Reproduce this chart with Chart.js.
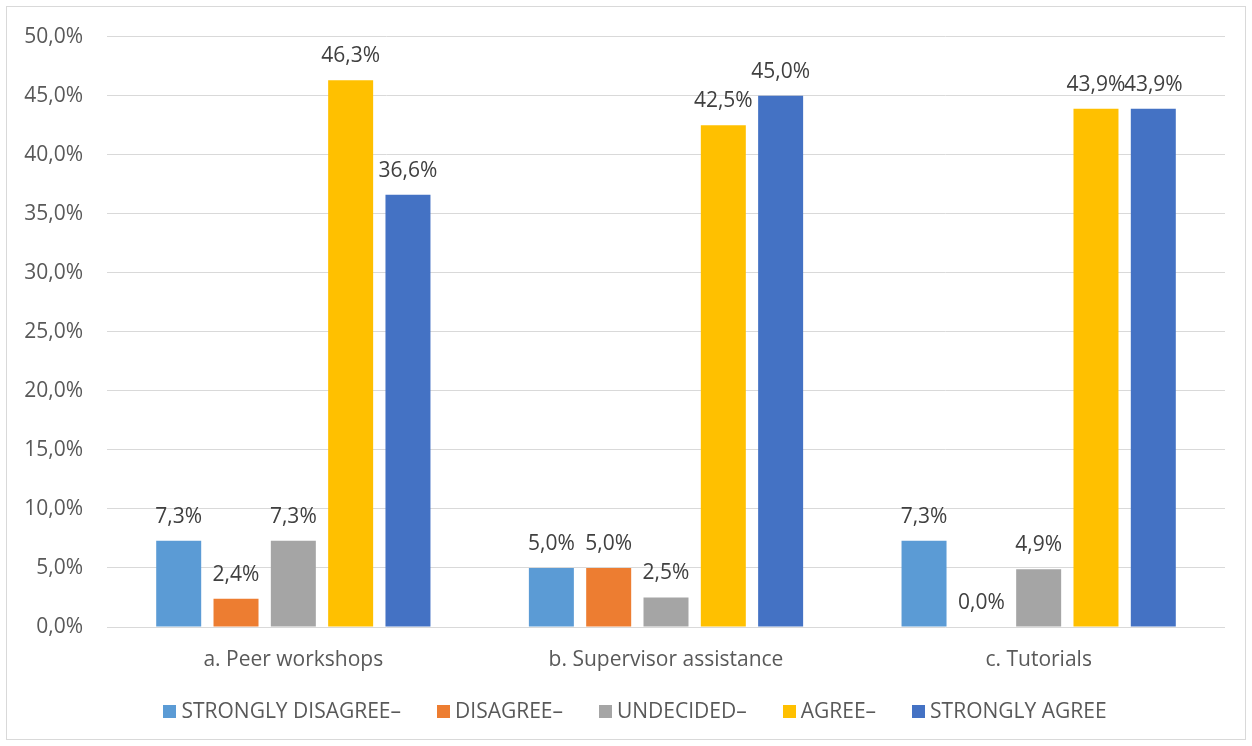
<!DOCTYPE html>
<html>
<head>
<meta charset="utf-8">
<title>Support ratings</title>
<script src="https://cdn.jsdelivr.net/npm/chart.js@4/dist/chart.umd.min.js"></script>
<style>
  html, body { margin: 0; padding: 0; background: #ffffff; }
  #wrap { width: 1252px; height: 746px; }
</style>
</head>
<body>
<div id="wrap"><canvas id="chart" width="1252" height="746"></canvas></div>
<script>
// Categories and response shares (percent)
const categories = ['a. Peer workshops', 'b. Supervisor assistance', 'c. Tutorials'];
const seriesNames = ['STRONGLY DISAGREE–', 'DISAGREE–', 'UNDECIDED–', 'AGREE–', 'STRONGLY AGREE'];
const stronglyDisagree = [7.3, 5.0, 7.3];
const disagree = [2.4, 5.0, 0.0];
const undecided = [7.3, 2.5, 4.9];
const agree = [46.3, 42.5, 43.9];
const stronglyAgree = [36.6, 45.0, 43.9];
const yTicks = [0, 5, 10, 15, 20, 25, 30, 35, 40, 45, 50];

const seriesValues = [stronglyDisagree, disagree, undecided, agree, stronglyAgree];
const seriesColors = ['#5B9BD5', '#ED7D31', '#A5A5A5', '#FFC000', '#4472C4'];

const FONT = '"Open Sans", "DejaVu Sans", sans-serif';
const FONT_SIZE = 21;
const fmt = v => v.toFixed(1).replace('.', ',') + '%';

// White background plus thin frame around the whole chart
const framePlugin = {
  id: 'frame',
  beforeDraw(chart) {
    const ctx = chart.ctx;
    ctx.save();
    ctx.fillStyle = '#ffffff';
    ctx.fillRect(0, 0, chart.width, chart.height);
    ctx.restore();
  },
  afterDraw(chart) {
    const ctx = chart.ctx;
    ctx.save();
    ctx.strokeStyle = '#d9d9d9';
    ctx.lineWidth = 1;
    ctx.strokeRect(6.5, 6.5, chart.width - 13, chart.height - 13);
    ctx.restore();
  }
};

// Value labels above each bar
const valueLabels = {
  id: 'valueLabels',
  afterDatasetsDraw(chart) {
    const ctx = chart.ctx;
    ctx.save();
    ctx.font = FONT_SIZE + 'px ' + FONT;
    ctx.fillStyle = '#404040';
    ctx.textAlign = 'center';
    ctx.textBaseline = 'alphabetic';
    chart.data.datasets.forEach((ds, di) => {
      const meta = chart.getDatasetMeta(di);
      meta.data.forEach((bar, i) => {
        ctx.fillText(fmt(ds.data[i]), bar.x, bar.y - 18);
      });
    });
    ctx.restore();
  }
};

// Single-row legend under the axis: small square swatch, tight gap, wide spacing between entries
const rowLegend = {
  id: 'rowLegend',
  afterDraw(chart, args, opts) {
    const ctx = chart.ctx;
    const box = opts.box, gap = opts.gap, spacing = opts.spacing;
    ctx.save();
    ctx.font = FONT_SIZE + 'px ' + FONT;
    ctx.textBaseline = 'middle';
    ctx.textAlign = 'left';
    const items = chart.data.datasets.map(ds => ({
      text: ds.label,
      color: ds.backgroundColor,
      w: box + gap + ctx.measureText(ds.label).width
    }));
    const total = items.reduce((s, it) => s + it.w, 0) + spacing * (items.length - 1);
    let x = opts.centerX - total / 2;
    const y = opts.y;
    items.forEach(it => {
      ctx.fillStyle = it.color;
      ctx.fillRect(Math.round(x), Math.round(y - box / 2), box, box);
      ctx.fillStyle = '#595959';
      ctx.fillText(it.text, x + box + gap, y + 1);
      x += it.w + spacing;
    });
    ctx.restore();
  }
};

new Chart(document.getElementById('chart'), {
  type: 'bar',
  data: {
    labels: categories,
    datasets: seriesNames.map((name, i) => ({
      label: name,
      data: seriesValues[i],
      backgroundColor: seriesColors[i],
      borderWidth: 0,
      categoryPercentage: 0.769,
      barPercentage: 0.785
    }))
  },
  options: {
    responsive: false,
    animation: false,
    layout: { padding: { top: 36, right: 27, left: 0, bottom: 71 } },
    scales: {
      x: {
        grid: { display: false, drawTicks: false },
        border: { display: false },
        ticks: { color: '#595959', font: { family: FONT, size: FONT_SIZE }, padding: 20 },
        afterFit(scale) { scale.height = 48; }
      },
      y: {
        min: 0,
        max: 50,
        afterBuildTicks(scale) { scale.ticks = yTicks.map(v => ({ value: v })); },
        grid: { color: '#d9d9d9', lineWidth: 1, drawTicks: false },
        border: { display: false },
        ticks: {
          color: '#595959',
          font: { family: FONT, size: FONT_SIZE },
          padding: 24,
          callback: v => fmt(v)
        },
        afterFit(scale) { scale.width = 107; }
      }
    },
    plugins: {
      legend: { display: false },
      tooltip: { enabled: false },
      rowLegend: { box: 13, gap: 5, spacing: 36, centerX: 635, y: 711 }
    }
  },
  plugins: [framePlugin, valueLabels, rowLegend]
});
</script>
</body>
</html>
